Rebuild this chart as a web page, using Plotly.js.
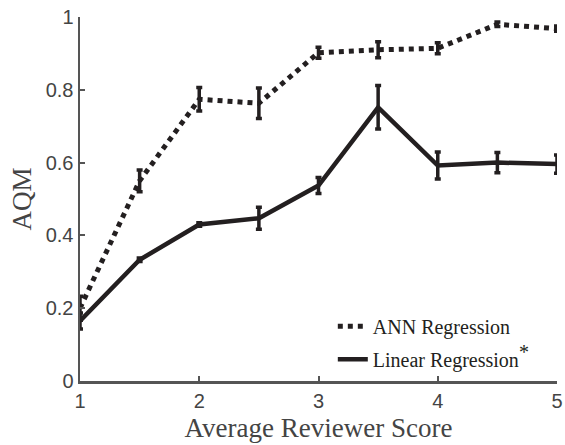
<!DOCTYPE html>
<html>
<head>
<meta charset="utf-8">
<script src="https://cdn.plot.ly/plotly-3.0.1.min.js"></script>
<style>html,body{margin:0;padding:0;background:#fff;}#chart{width:565px;height:445px;}</style>
</head>
<body>
<div id="chart"></div>
<script>
const scores = [1, 1.5, 2, 2.5, 3, 3.5, 4, 4.5, 5];
const annMean = [0.20, 0.55, 0.774, 0.763, 0.902, 0.910, 0.914, 0.980, 0.968];
const annErr  = [0.033, 0.030, 0.032, 0.042, 0.015, 0.022, 0.015, 0.006, 0.007];
const linMean = [0.165, 0.333, 0.430, 0.447, 0.537, 0.752, 0.592, 0.600, 0.596];
const linErr  = [0.022, 0.005, 0.005, 0.030, 0.022, 0.060, 0.037, 0.028, 0.025];
const yTicks = [0, 0.2, 0.4, 0.6, 0.8, 1];
const yTickText = ['0', '0.2', '0.4', '0.6', '0.8', '1'];
const xTicks = [1, 2, 3, 4, 5];

const lineColor = '#231f20';
const traces = [
  {
    x: scores, y: annMean, name: 'ANN Regression', type: 'scatter', mode: 'lines', legendgroup: 'a',
    line: {color: lineColor, width: 5, dash: '5px,5px'},
    error_y: {type: 'data', array: annErr, visible: true, color: lineColor, thickness: 3.5, width: 3}
  },
  {
    x: scores, y: linMean, name: 'Linear Regression<sup><span style="font-size:20px">*</span></sup>', type: 'scatter', mode: 'lines', legendgroup: 'b',
    line: {color: lineColor, width: 4.5},
    error_y: {type: 'data', array: linErr, visible: true, color: lineColor, thickness: 3.5, width: 3}
  }
];

const layout = {
  width: 565, height: 445,
  margin: {l: 80, r: 8, t: 17, b: 64},
  paper_bgcolor: '#fff', plot_bgcolor: '#fff',
  showlegend: true,
  legend: {
    x: 0.53, y: 0.204, xanchor: 'left', yanchor: 'top',
    bgcolor: 'rgba(0,0,0,0)',
    font: {family: 'Liberation Serif, Times New Roman, serif', size: 20, color: '#231f20'},
    itemwidth: 30, tracegroupgap: 4, traceorder: 'grouped'
  },
  xaxis: {
    range: [1, 5], tickvals: xTicks, ticks: 'inside', ticklen: 5, tickwidth: 2, tickcolor: '#555',
    showline: true, linecolor: '#555', linewidth: 2.5, showgrid: false, zeroline: false,
    tickfont: {family: 'Liberation Sans, Arial, sans-serif', size: 20, color: '#444'},
    title: {text: 'Average Reviewer Score', standoff: 8,
      font: {family: 'Liberation Serif, Times New Roman, serif', size: 27, color: '#444'}}
  },
  yaxis: {
    range: [0, 1], tickvals: yTicks, ticktext: yTickText, ticks: 'inside', ticklen: 5, tickwidth: 2, tickcolor: '#555',
    showline: true, linecolor: '#555', linewidth: 2.5, showgrid: false, zeroline: false,
    tickfont: {family: 'Liberation Sans, Arial, sans-serif', size: 20, color: '#444'},
    title: {text: 'AQM', standoff: 6,
      font: {family: 'Liberation Serif, Times New Roman, serif', size: 27, color: '#444'}}
  }
};

Plotly.newPlot('chart', traces, layout, {displayModeBar: false, staticPlot: true});
</script>
</body>
</html>
